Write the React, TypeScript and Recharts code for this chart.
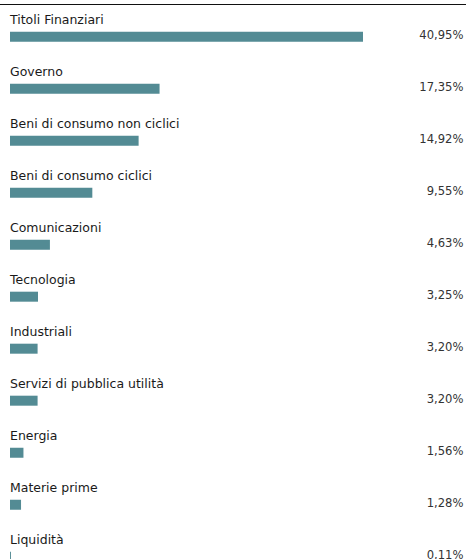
import React from 'react';
import { BarChart, Bar, XAxis, YAxis, LabelList } from 'recharts';

const categories = [
  'Titoli Finanziari',
  'Governo',
  'Beni di consumo non ciclici',
  'Beni di consumo ciclici',
  'Comunicazioni',
  'Tecnologia',
  'Industriali',
  'Servizi di pubblica utilità',
  'Energia',
  'Materie prime',
  'Liquidità',
];

const weights = [40.95, 17.35, 14.92, 9.55, 4.63, 3.25, 3.2, 3.2, 1.56, 1.28, 0.11];

const data = categories.map((name, i) => ({ name, value: weights[i] }));

const FONT = '"DejaVu Sans", Arial, sans-serif';
const BAR_COLOR = '#538b94';

const fmt = (v: number) => v.toFixed(2).replace('.', ',') + '%';

const NameLabel = (props: any) => {
  const { y, value } = props;
  return (
    <text x={10} y={Number(y) - 7.7} fontFamily={FONT} fontSize={12.5} fill="#1a1a1a">
      {value}
    </text>
  );
};

const ValueLabel = (props: any) => {
  const { y, value } = props;
  return (
    <text x={463.5} y={Number(y) + 7.6} textAnchor="end" fontFamily={FONT} fontSize={11.6} fill="#333333">
      {fmt(Number(value))}
    </text>
  );
};

export default function App() {
  return (
    <div style={{ position: 'absolute', left: 0, top: 0, width: 466, height: 559, overflow: 'hidden', background: '#fff' }}>
      <div style={{ position: 'absolute', left: 0, top: 4, width: 466, height: 1, background: '#111' }} />
      <BarChart
        width={466}
        height={582.7}
        data={data}
        layout="vertical"
        margin={{ top: 10.7, right: 103, left: 10, bottom: 0 }}
      >
        <XAxis type="number" domain={[0, 40.95]} hide />
        <YAxis type="category" dataKey="name" hide />
        <Bar dataKey="value" fill={BAR_COLOR} barSize={10} isAnimationActive={false}>
          <LabelList dataKey="name" content={NameLabel} />
          <LabelList dataKey="value" content={ValueLabel} />
        </Bar>
      </BarChart>
    </div>
  );
}
